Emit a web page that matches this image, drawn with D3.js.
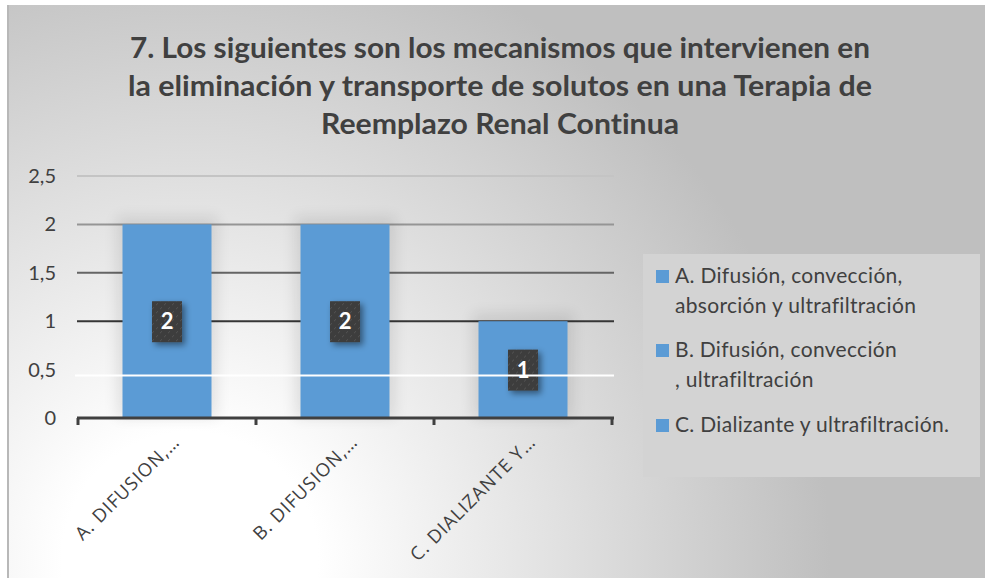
<!DOCTYPE html>
<html>
<head>
<meta charset="utf-8">
<script src="https://cdn.jsdelivr.net/npm/d3@7"></script>
<style>
  body { margin: 0; background: #fff; }
  svg { display: block; font-family: Lato, "Open Sans", sans-serif; font-variant-ligatures: none; }
</style>
</head>
<body>
<div id="chart"></div>
<script>
// data
var categories = ["A. DIFUSION,…", "B. DIFUSION,…", "C. DIALIZANTE Y…"];
var values = [2, 2, 1];
var legendLabels = [
  ["A. Difusión, convección,", "absorción y ultrafiltración"],
  ["B. Difusión, convección", ", ultrafiltración"],
  ["C. Dializante y ultrafiltración."]
];
var yTicks = [0, 0.5, 1, 1.5, 2, 2.5];
var yTickLabels = ["0", "0,5", "1", "1,5", "2", "2,5"];
var whiteLineValue = 0.44;
var titleLines = [
  "7. Los siguientes son los mecanismos que intervienen en",
  "la eliminación y transporte de solutos en una Terapia de",
  "Reemplazo Renal Continua"
];
var titleWidths = [740, 744, 358];

var W = 985, H = 578;
var barColor = "#5b9bd5", textColor = "#404040";

var svg = d3.select("#chart").append("svg")
  .attr("width", W)
  .attr("height", H);

var defs = svg.append("defs");
var bg = defs.append("radialGradient")
  .attr("id", "bg")
  .attr("gradientUnits", "userSpaceOnUse")
  .attr("cx", 190).attr("cy", 560).attr("r", 640);
bg.append("stop").attr("offset", 0).attr("stop-color", "#ffffff");
bg.append("stop").attr("offset", 0.2).attr("stop-color", "#ffffff");
bg.append("stop").attr("offset", 1).attr("stop-color", "#bfbfbf");

var glow = defs.append("filter").attr("id", "glow")
  .attr("x", "-40%").attr("y", "-40%").attr("width", "180%").attr("height", "180%");
glow.append("feGaussianBlur").attr("stdDeviation", 7);

var shadow = defs.append("filter").attr("id", "shadow")
  .attr("x", "-40%").attr("y", "-40%").attr("width", "180%").attr("height", "180%");
shadow.append("feDropShadow")
  .attr("dx", 3).attr("dy", 3).attr("stdDeviation", 3)
  .attr("flood-color", "#000").attr("flood-opacity", 0.45);

var pat = defs.append("pattern").attr("id", "tex")
  .attr("patternUnits", "userSpaceOnUse").attr("width", 8).attr("height", 8);
pat.append("rect").attr("width", 8).attr("height", 8).attr("fill", "#3e3e3e");
pat.append("path").attr("d", "M1,4 L3,2 M5,8 L7,6").attr("stroke", "#555").attr("stroke-width", 1);

// background
svg.append("rect")
  .attr("x", 7).attr("y", 5)
  .attr("width", W - 7).attr("height", H - 5)
  .attr("fill", "url(#bg)");
svg.append("line")
  .attr("x1", 8).attr("x2", 8).attr("y1", 5).attr("y2", H)
  .attr("stroke", "#b8b8b8").attr("stroke-width", 2);

// title
svg.append("g").selectAll("text")
  .data(titleLines)
  .enter().append("text")
  .attr("x", 500)
  .attr("y", function(d, i) { return 58 + i * 38; })
  .attr("text-anchor", "middle")
  .attr("textLength", function(d, i) { return titleWidths[i]; })
  .attr("lengthAdjust", "spacingAndGlyphs")
  .style("font-size", "28px")
  .style("font-weight", "bold")
  .style("fill", textColor)
  .text(function(d) { return d; });

// scales
var x = d3.scaleBand().domain(categories).range([78, 612]);
var y = d3.scaleLinear().domain([0, 2.5]).range([418, 176]);
var gridColor = d3.scaleLinear().domain([1, 2.5]).range(["#363636", "#c4c4c4"]);

// gridlines
svg.append("g").selectAll("line")
  .data(yTicks.filter(function(d) { return d >= 1; }))
  .enter().append("line")
  .attr("x1", 77).attr("x2", 614)
  .attr("y1", function(d) { return y(d); })
  .attr("y2", function(d) { return y(d); })
  .attr("stroke", function(d) { return gridColor(d); })
  .attr("stroke-width", 2);

// y labels
svg.append("g").selectAll("text")
  .data(yTicks)
  .enter().append("text")
  .attr("x", 56)
  .attr("y", function(d) { return y(d); })
  .attr("dy", "0.35em")
  .attr("text-anchor", "end")
  .style("font-size", "20px")
  .style("fill", textColor)
  .text(function(d, i) { return yTickLabels[i]; });

// bar glow
var bw = x.bandwidth() * 0.5;
svg.append("g").selectAll("rect")
  .data(values)
  .enter().append("rect")
  .attr("x", function(d, i) { return x(categories[i]) + (x.bandwidth() - bw) / 2 - 6; })
  .attr("y", function(d) { return y(d) - 8; })
  .attr("width", bw + 12)
  .attr("height", function(d) { return y(0) - y(d) + 8; })
  .attr("fill", "#000")
  .attr("opacity", 0.09)
  .attr("filter", "url(#glow)");

// bars
svg.append("g").selectAll("rect")
  .data(values)
  .enter().append("rect")
  .attr("x", function(d, i) { return x(categories[i]) + (x.bandwidth() - bw) / 2; })
  .attr("y", function(d) { return y(d); })
  .attr("width", bw)
  .attr("height", function(d) { return y(0) - y(d); })
  .attr("fill", barColor);

// axis
var xAxis = svg.append("g")
  .attr("transform", "translate(0," + y(0) + ")")
  .call(d3.axisBottom(x).tickSize(0).tickFormat(""));
xAxis.select(".domain").remove();
xAxis.append("line")
  .attr("x1", 77).attr("x2", 614)
  .attr("stroke", "#404040").attr("stroke-width", 3);
xAxis.selectAll(".tickmark")
  .data(d3.range(categories.length + 1))
  .enter().append("line")
  .attr("x1", function(d) { return x.range()[0] + d * x.step(); })
  .attr("x2", function(d) { return x.range()[0] + d * x.step(); })
  .attr("y1", 0).attr("y2", 7)
  .attr("stroke", "#404040").attr("stroke-width", 3);

// x labels
svg.append("g").selectAll("text")
  .data(categories)
  .enter().append("text")
  .attr("transform", function(d) {
    return "translate(" + (x(d) + x.bandwidth() / 2 + 14) + "," + (y(0) + 25) + ") rotate(-45)";
  })
  .attr("text-anchor", "end")
  .style("font-family", "'Open Sans', sans-serif")
  .style("font-size", "18.5px")
  .style("letter-spacing", "1px")
  .style("fill", textColor)
  .text(function(d) { return d; });

// data labels
var lbl = svg.append("g").selectAll("g")
  .data(values)
  .enter().append("g")
  .attr("transform", function(d, i) {
    return "translate(" + (x(categories[i]) + x.bandwidth() / 2) + "," + y(d / 2) + ")";
  });
lbl.append("rect")
  .attr("x", -15).attr("y", -20)
  .attr("width", 30).attr("height", 41)
  .attr("fill", "url(#tex)")
  .attr("filter", "url(#shadow)");
lbl.append("text")
  .attr("dy", "0.36em")
  .attr("text-anchor", "middle")
  .style("font-size", "22px")
  .style("font-weight", "bold")
  .style("fill", "#fff")
  .text(function(d) { return d; });

// white line across plot
svg.append("line")
  .attr("x1", 75).attr("x2", 614)
  .attr("y1", y(whiteLineValue)).attr("y2", y(whiteLineValue))
  .attr("stroke", "#fff").attr("stroke-width", 2);

// legend
var legend = svg.append("g");
legend.append("rect")
  .attr("x", 643).attr("y", 254)
  .attr("width", 337).attr("height", 223)
  .attr("fill", "#d3d3d3");

var lineTops = [283, 357, 432];
var item = legend.selectAll(".item")
  .data(legendLabels)
  .enter().append("g")
  .attr("transform", function(d, i) { return "translate(656," + lineTops[i] + ")"; });
item.append("rect")
  .attr("x", 0).attr("y", -13)
  .attr("width", 13).attr("height", 13)
  .attr("fill", barColor);
item.selectAll("text")
  .data(function(d) { return d; })
  .enter().append("text")
  .attr("x", 19)
  .attr("y", function(d, i) { return i * 30; })
  .style("font-size", "21px")
  .style("letter-spacing", "0.3px")
  .style("fill", textColor)
  .text(function(d) { return d; });
</script>
</body>
</html>
